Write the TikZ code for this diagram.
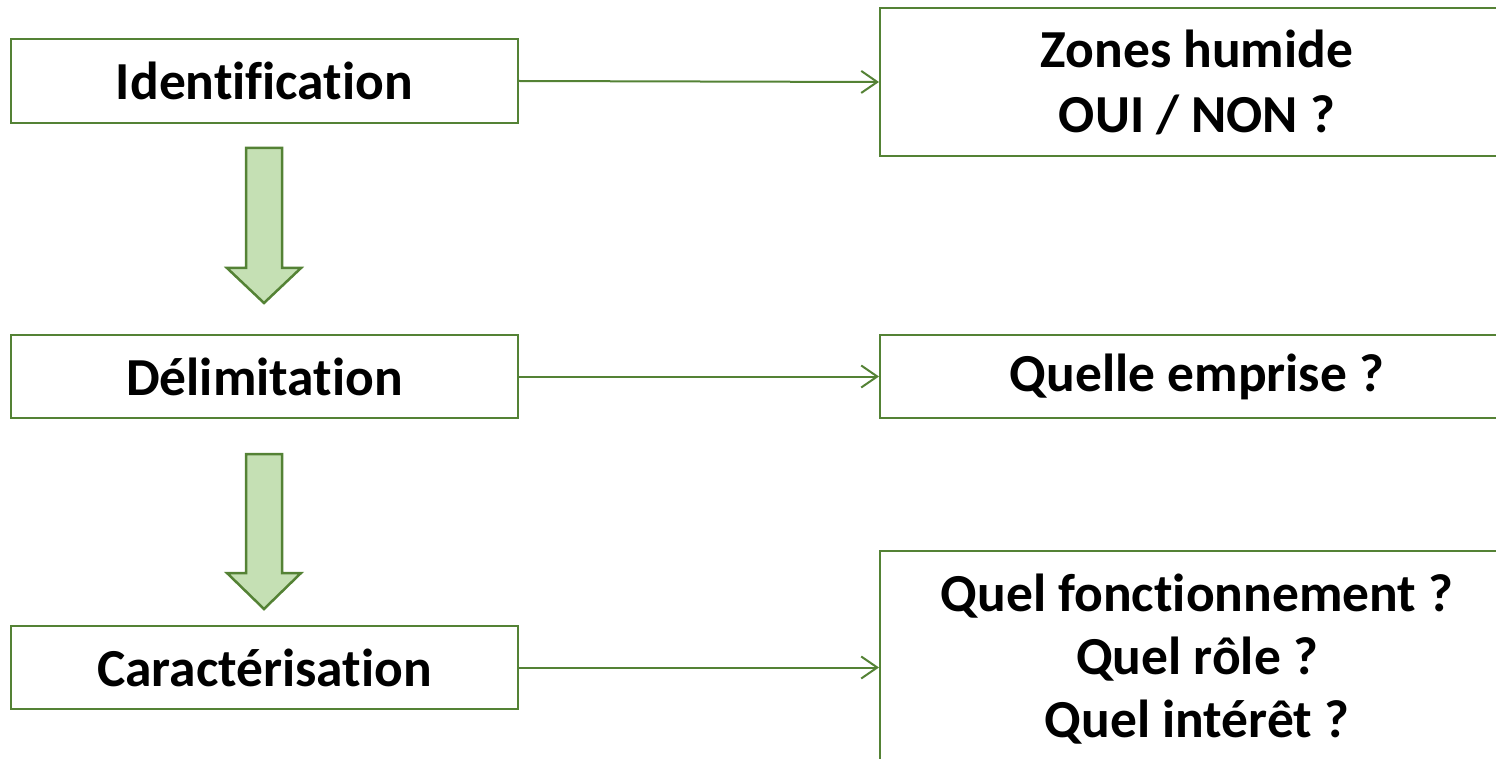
\documentclass[tikz,border=0pt]{standalone}
\usepackage{fontspec}
\setmainfont{Carlito}[Ligatures=NoCommon]
\usetikzlibrary{arrows.meta}
\definecolor{gline}{HTML}{548235}
\definecolor{gfill}{HTML}{C5E0B4}
\begin{document}
\begin{tikzpicture}[x=1pt,y=-1pt,
  box/.style={draw=gline,line width=2pt,fill=white,inner sep=0pt,align=center,
    font=\fontsize{53.5}{64}\selectfont\bfseries},
  conn/.style={draw=gline,line width=2pt,-{Straight Barb[length=16pt,width=22pt,line width=2pt]}},
  blockarrow/.style={draw=gline,line width=2.5pt,fill=gfill,line join=miter}]
\useasboundingbox (0,0) rectangle (1496,759);
\clip (0,0) rectangle (1496,759);
\node[box,minimum width=507pt,minimum height=84pt] (id) at (264.5,81) {Identification};
\node[box,minimum width=507pt,minimum height=83pt] (del) at (264.5,376.5) {Délimitation};
\node[box,minimum width=507pt,minimum height=83pt] (car) at (264.5,667.5) {Caractérisation};
\node[box,minimum width=634pt,minimum height=148pt,font=\fontsize{53.5}{65}\selectfont\bfseries] (zh) at (1197,82) {Zones humide\\OUI / NON ?};
\node[box,minimum width=634pt,minimum height=83pt] (qe) at (1197,376.5) {Quelle emprise ?};
\node[box,minimum width=634pt,minimum height=216pt,font=\fontsize{53.5}{63}\selectfont\bfseries] (qf) at (1197,659) {Quel fonctionnement ?\\Quel rôle ?\\Quel intérêt ?};
\draw[conn] (id.east) -- (zh.west);
\draw[conn] (del.east) -- (qe.west);
\draw[conn] (car.east) -- (car.east -| qf.west);
\draw[blockarrow] (246,148) -- (282,148) -- (282,268) -- (301,268) -- (264,303) -- (227,268) -- (246,268) -- cycle;
\draw[blockarrow] (246,454) -- (282,454) -- (282,573) -- (301,573) -- (264,609) -- (227,573) -- (246,573) -- cycle;
\end{tikzpicture}
\end{document}
